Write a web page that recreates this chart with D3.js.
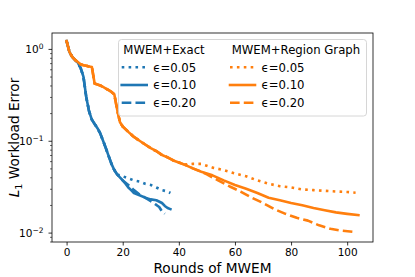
<!DOCTYPE html>
<html><head><meta charset="utf-8">
<script src="https://cdn.jsdelivr.net/npm/d3@7"></script>
<style>body{margin:0;background:#fff}svg{display:block}text{font-family:"DejaVu Sans",sans-serif;fill:#000}</style>
</head><body><svg id="c" width="415" height="277"></svg>
<script>
// ---- data ----
const exactHeadX = [0,1,2,3,4,5,6,7,8,9,10,11,12,13,14,15,16,17,18];
const exactHeadY = [1.22,0.93,0.82,0.76,0.71,0.62,0.5,0.3,0.21,0.17,0.152,0.137,0.12,0.1,0.083,0.068,0.056,0.048,0.043];
const exact005TailX = [20,22,24,26,28,30,32,34,36,37];
const exact005TailY = [0.041,0.039,0.037,0.036,0.034,0.033,0.031,0.029,0.028,0.027];
const exact010TailX = [19,20,21,22,23,24,26,28,30,32,34,35,36,37];
const exact010TailY = [0.040,0.037,0.034,0.031,0.029,0.027,0.0255,0.024,0.023,0.0225,0.021,0.0195,0.0185,0.018];
const exact020TailX = [19,20,22,24,26,28,30,32,33,34,35];
const exact020TailY = [0.04,0.037,0.033,0.029,0.026,0.024,0.022,0.02,0.019,0.017,0.016];

const regionHeadX = [0,1,2,3,4,5,6,7,8,9,10,11,12,13,14,15,16,17,18,19,20,22,24,26,28,30,32,34,36,38,40,42];
const regionHeadY = [1.22,0.93,0.82,0.76,0.72,0.68,0.665,0.655,0.645,0.635,0.42,0.41,0.40,0.385,0.37,0.355,0.34,0.32,0.22,0.16,0.143,0.125,0.11,0.1,0.091,0.083,0.077,0.07,0.066,0.061,0.058,0.055];
const region005TailX = [45,48,52,56,60,64,68,72,76,80,84,88,92,96,100,103];
const region005TailY = [0.056,0.056,0.051,0.048,0.044,0.041,0.037,0.034,0.032,0.031,0.0295,0.029,0.0285,0.028,0.0277,0.0272];
const region010TailX = [45,48,52,56,60,64,68,72,76,80,84,88,92,96,100,104];
const region010TailY = [0.05,0.046,0.042,0.037,0.033,0.030,0.027,0.024,0.0225,0.021,0.0198,0.0185,0.0175,0.0166,0.016,0.0155];
const region020TailX = [45,48,50,54,58,62,66,70,74,78,82,86,90,94,98,102];
const region020TailY = [0.05,0.046,0.043,0.037,0.032,0.028,0.024,0.021,0.018,0.016,0.0145,0.0135,0.012,0.011,0.0105,0.0102];

const xTicks = [0,20,40,60,80,100];
const yTicks = [1,0.1,0.01];
const yTickExp = ["0","\u22121","\u22122"];
const epsLabels = ["\u03f5=0.05","\u03f5=0.10","\u03f5=0.20"];
const groupTitles = ["MWEM+Exact","MWEM+Region Graph"];

// ---- build series ----
function zip(xs, ys){ return xs.map((x,i)=>({x, y:ys[i]})); }
const series = [
  {g:0, e:0, pts: zip(exactHeadX.concat(exact005TailX), exactHeadY.concat(exact005TailY))},
  {g:0, e:1, pts: zip(exactHeadX.concat(exact010TailX), exactHeadY.concat(exact010TailY))},
  {g:0, e:2, pts: zip(exactHeadX.concat(exact020TailX), exactHeadY.concat(exact020TailY))},
  {g:1, e:0, pts: zip(regionHeadX.concat(region005TailX), regionHeadY.concat(region005TailY))},
  {g:1, e:1, pts: zip(regionHeadX.concat(region010TailX), regionHeadY.concat(region010TailY))},
  {g:1, e:2, pts: zip(regionHeadX.concat(region020TailX), regionHeadY.concat(region020TailY))},
];
const colors = ["#1f77b4","#ff7f0e"];
const LW = 2.6;
const dashes = [`${LW},${(1.65*LW).toFixed(2)}`, null, `${(3.7*LW).toFixed(2)},${(1.6*LW).toFixed(2)}`];

// ---- layout ----
const L=52, R=373, T=33, B=242;
const svg = d3.select("#c");
const x = d3.scaleLinear().domain([-5.2,109.2]).range([L,R]);
const y = d3.scaleLog().domain([0.0079,1.49]).range([B,T]);

const clip = svg.append("clipPath").attr("id","clip").append("rect")
  .attr("x",L).attr("y",T).attr("width",R-L).attr("height",B-T);

const line = d3.line().x(d=>x(d.x)).y(d=>y(d.y));
const lines = svg.append("g").attr("clip-path","url(#clip)");
series.forEach(s=>{
  lines.append("path").datum(s.pts).attr("d",line)
    .attr("fill","none").attr("stroke",colors[s.g]).attr("stroke-width",LW)
    .attr("stroke-linejoin","round")
    .attr("stroke-linecap", dashes[s.e] ? "butt" : "square")
    .attr("stroke-dasharray", dashes[s.e]);
});

// axes
const xAxis = d3.axisBottom(x).tickValues(xTicks).tickSize(3.5).tickPadding(3.5);
const gx = svg.append("g").attr("transform",`translate(0,${B})`).call(xAxis);
gx.select(".domain").remove();
gx.selectAll("text").attr("font-size","10.5px").attr("font-family","DejaVu Sans");
gx.selectAll("line").attr("stroke-width",0.8);

const minor = [];
[0.001,0.01,0.1,1].forEach(p=>{for(let k=2;k<=9;k++){const v=p*k; if(v>=0.0079&&v<=1.49) minor.push(v);}});
const yAxisMinor = d3.axisLeft(y).tickValues(minor).tickSize(2).tickFormat("");
const gym = svg.append("g").attr("transform",`translate(${L},0)`).call(yAxisMinor);
gym.select(".domain").remove();
gym.selectAll("line").attr("stroke-width",0.6);

const yAxis = d3.axisLeft(y).tickValues(yTicks).tickSize(3.5).tickFormat("");
const gy = svg.append("g").attr("transform",`translate(${L},0)`).call(yAxis);
gy.select(".domain").remove();
gy.selectAll("line").attr("stroke-width",0.8);
yTicks.forEach((v,i)=>{
  const t = svg.append("text").attr("x",L-8.5).attr("y",y(v)+4.5).attr("text-anchor","end")
    .attr("font-size","10.5px");
  t.append("tspan").text("10");
  t.append("tspan").attr("dy",-4.5).attr("font-size","7.5px").text(yTickExp[i]);
});

// frame
svg.append("rect").attr("x",L).attr("y",T).attr("width",R-L).attr("height",B-T)
  .attr("fill","none").attr("stroke","#000").attr("stroke-width",0.8);

// axis labels
svg.append("text").attr("x",(L+R)/2).attr("y",273).attr("text-anchor","middle")
  .attr("font-size","13.7px").text("Rounds of MWEM");
const yl = svg.append("text").attr("transform",`translate(19,${(T+B)/2}) rotate(-90)`)
  .attr("text-anchor","middle").attr("font-size","13.7px");
yl.append("tspan").attr("font-style","italic").text("L");
yl.append("tspan").attr("font-size","9.5px").attr("dy",3).text("1");
yl.append("tspan").attr("dy",-3).text(" Workload Error");

// legend
const lg = svg.append("g");
lg.append("rect").attr("x",118.5).attr("y",39.5).attr("width",248).attr("height",76.5)
  .attr("rx",3).attr("fill","#fff").attr("fill-opacity",0.8).attr("stroke","#ccc").attr("stroke-width",0.8);
const colX = [121.7, 230];
const titleX = [123.3, 231.7];
const rowY = [67.3, 85, 102.7];
groupTitles.forEach((t,g)=>{
  lg.append("text").attr("x",titleX[g]).attr("y",54).attr("font-size","11.7px").text(t);
  epsLabels.forEach((lab,e)=>{
    lg.append("line").attr("x1",colX[g]).attr("x2",colX[g]+25).attr("y1",rowY[e]).attr("y2",rowY[e])
      .attr("stroke",colors[g]).attr("stroke-width",LW)
      .attr("stroke-linecap", dashes[e] ? "butt" : "square")
      .attr("stroke-dasharray", dashes[e]);
    lg.append("text").attr("x",colX[g]+31.5).attr("y",rowY[e]+4.4).attr("font-size","11.7px").text(lab);
  });
});
</script></body></html>
